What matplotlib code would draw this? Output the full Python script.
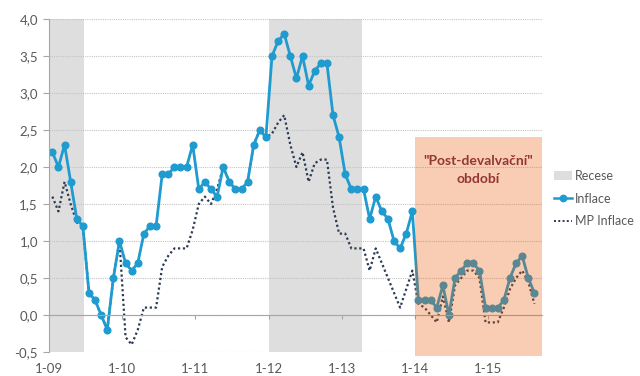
import matplotlib
matplotlib.use("Agg")
import matplotlib.pyplot as plt
from matplotlib.patches import Patch, Rectangle
from matplotlib.lines import Line2D
from matplotlib.ticker import FuncFormatter
import numpy as np

plt.rcParams['font.family'] = ['Lato', 'DejaVu Sans']

# monthly data, Jan 2009 - Aug 2015
inflace = [
    2.2, 2.0, 2.3, 1.8, 1.3, 1.2, 0.3, 0.2, 0.0, -0.2, 0.5, 1.0,   # 2009
    0.7, 0.6, 0.7, 1.1, 1.2, 1.2, 1.9, 1.9, 2.0, 2.0, 2.0, 2.3,    # 2010
    1.7, 1.8, 1.7, 1.6, 2.0, 1.8, 1.7, 1.7, 1.8, 2.3, 2.5, 2.4,    # 2011
    3.5, 3.7, 3.8, 3.5, 3.2, 3.5, 3.1, 3.3, 3.4, 3.4, 2.7, 2.4,    # 2012
    1.9, 1.7, 1.7, 1.7, 1.3, 1.6, 1.4, 1.3, 1.0, 0.9, 1.1, 1.4,    # 2013
    0.2, 0.2, 0.2, 0.1, 0.4, 0.0, 0.5, 0.6, 0.7, 0.7, 0.6, 0.1,    # 2014
    0.1, 0.1, 0.2, 0.5, 0.7, 0.8, 0.5, 0.3,                        # 2015
]
mp_inflace = [
    1.6, 1.4, 1.8, 1.5, 1.25, 1.2, 0.3, 0.2, 0.0, -0.2, 0.5, 1.0,
    -0.3, -0.4, -0.2, 0.1, 0.1, 0.1, 0.65, 0.8, 0.9, 0.9, 0.9, 1.15,
    1.5, 1.6, 1.5, 1.7, 2.0, 1.8, 1.7, 1.7, 1.8, 2.3, 2.5, 2.4,
    2.45, 2.6, 2.7, 2.3, 2.0, 2.2, 1.8, 2.05, 2.1, 2.1, 1.45, 1.1,
    1.1, 0.9, 0.9, 0.9, 0.6, 0.9, 0.7, 0.5, 0.3, 0.1, 0.35, 0.6,
    0.15, 0.1, 0.0, -0.1, 0.25, -0.1, 0.4, 0.5, 0.6, 0.6, 0.5, -0.1,
    -0.1, -0.1, 0.1, 0.35, 0.5, 0.6, 0.45, 0.15,
]
year_labels = ['1-09', '1-10', '1-11', '1-12', '1-13', '1-14', '1-15']
# periods in months from Jan 2009
recese = [(0, 5.8), (36, 51.3)]
post_deval = (60, 80.8)
post_deval_top = 2.4

blue = '#1f9bcf'
grey_txt = '#595959'

fig = plt.figure(figsize=(6.4, 3.76), dpi=100)
ax = fig.add_axes([49 / 640, 1 - 352 / 376, 493 / 640, 333 / 376])

x = np.arange(len(inflace)) + 0.55

for a, b in recese:
    ax.axvspan(a, b, color='#dedede', lw=0, zorder=0)

ax.plot(x, mp_inflace, color='#2b3a55', lw=1.6, ls=(0, (1, 1.2)), zorder=2)
ax.plot(x, inflace, color=blue, lw=2.0, marker='o', ms=4.8, zorder=2.5)

ax.add_patch(Rectangle((post_deval[0], -0.56), post_deval[1] - post_deval[0],
                       post_deval_top + 0.56, facecolor='#e85c05', alpha=0.3,
                       lw=0, zorder=3, clip_on=False))
ax.text((post_deval[0] + post_deval[1]) / 2, 1.96, '"Post-devalvační"\nobdobí',
        ha='center', va='center', color='#943634', fontsize=10,
        fontweight='bold', linespacing=1.65, zorder=4)

ax.set_xlim(0, 80.8)
ax.set_ylim(-0.5, 4.0)
ax.set_yticks(np.arange(-0.5, 4.01, 0.5))
ax.yaxis.set_major_formatter(FuncFormatter(lambda v, p: f'{v:.1f}'.replace('.', ',')))
ax.grid(axis='y', color='#c4c4c4', ls=(0, (1, 1)), lw=0.8, zorder=1)
ax.set_axisbelow(True)

for s in ['top', 'right']:
    ax.spines[s].set_visible(False)
ax.spines['left'].set_color('#a6a6a6')
ax.spines['bottom'].set_position(('data', 0))
ax.spines['bottom'].set_color('#a6a6a6')
ax.tick_params(axis='y', colors='#a6a6a6', labelcolor=grey_txt, labelsize=9.5,
               length=4, pad=4)

ticks = np.arange(len(year_labels)) * 12
ax.set_xticks(ticks)
ax.tick_params(axis='x', colors='#a6a6a6', length=3, labelbottom=False)

sec = ax.secondary_xaxis('bottom')
sec.set_xticks(ticks)
sec.set_xticklabels(year_labels)
sec.tick_params(length=0, labelsize=9.5, labelcolor=grey_txt, pad=8)
sec.spines['bottom'].set_visible(False)

handles = [
    Patch(facecolor='#dedede', edgecolor='none', label='Recese'),
    Line2D([], [], color=blue, lw=1.8, marker='o', ms=4.6, label='Inflace'),
    Line2D([], [], color='#2b3a55', lw=1.4, ls=(0, (1, 1.2)), label='MP Inflace'),
]
fig.legend(handles=handles, loc='center left', bbox_to_anchor=(0.862, 0.472),
           frameon=False, fontsize=9, handlelength=1.4, handletextpad=0.25,
           labelspacing=0.85, labelcolor=grey_txt, borderaxespad=0, borderpad=0.2)

fig.savefig('out.png', dpi=100)
